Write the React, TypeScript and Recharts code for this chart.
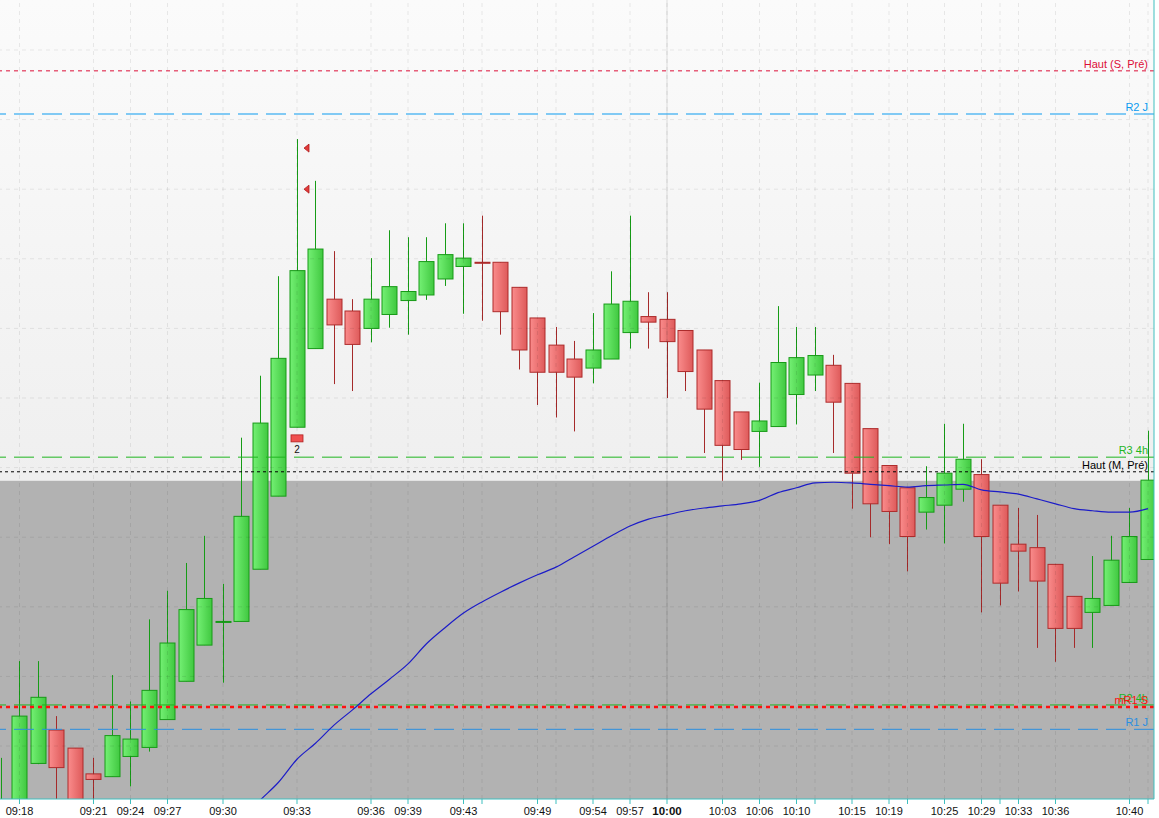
import {
  ComposedChart,
  Bar,
  Line,
  Scatter,
  XAxis,
  YAxis,
  ReferenceLine,
  ReferenceArea,
} from 'recharts';

// OHLC per bar (bar index 0..62)
const opens = [
  4820.5, 4821.5, 4827.5, 4832.3, 4829.7, 4826.0, 4825.6, 4828.5, 4829.8, 4833.8,
  4839.3, 4844.5, 4847.9, 4847.9, 4855.4, 4865.9, 4875.8, 4887.1, 4894.2, 4892.5,
  4890.0, 4892.0, 4894.0, 4894.8, 4897.1, 4898.9, 4899.5, 4899.5, 4895.9, 4891.5,
  4887.6, 4885.6, 4884.3, 4885.6, 4889.4, 4891.7, 4891.3, 4889.7, 4886.9, 4882.5,
  4878.0, 4875.2, 4875.9, 4880.5, 4883.3, 4884.7, 4882.1, 4875.6, 4870.3, 4867.1,
  4863.6, 4864.6, 4866.9, 4869.0, 4864.6, 4859.0, 4858.5, 4856.1, 4851.5, 4849.2,
  4850.2, 4853.5, 4856.8,
];
const highs = [
  4828.3, 4842.2, 4842.2, 4834.3, 4829.7, 4828.3, 4840.2, 4836.4, 4848.2, 4852.3,
  4856.3, 4860.2, 4853.3, 4874.3, 4883.2, 4897.5, 4917.2, 4911.2, 4901.1, 4894.2,
  4900.1, 4904.1, 4903.1, 4903.1, 4905.1, 4905.1, 4906.2, 4899.5, 4895.9, 4891.5,
  4890.2, 4888.2, 4892.2, 4898.2, 4906.2, 4895.2, 4895.2, 4889.7, 4886.9, 4882.5,
  4878.0, 4882.2, 4893.2, 4890.2, 4890.2, 4886.2, 4882.1, 4875.6, 4870.3, 4867.1,
  4870.2, 4876.3, 4876.3, 4871.2, 4864.6, 4864.2, 4863.2, 4856.1, 4851.5, 4857.3,
  4860.2, 4864.2, 4875.3,
];
const lows = [
  4819.7, 4820.8, 4827.4, 4821.5, 4820.8, 4821.5, 4825.6, 4824.2, 4829.2, 4833.8,
  4839.3, 4844.5, 4839.1, 4847.9, 4855.4, 4865.9, 4875.8, 4887.1, 4882.0, 4881.0,
  4888.0, 4890.1, 4889.1, 4894.1, 4896.1, 4892.1, 4891.1, 4889.1, 4884.1, 4879.0,
  4877.2, 4875.2, 4882.1, 4885.6, 4887.1, 4887.1, 4880.0, 4881.0, 4872.1, 4868.1,
  4871.1, 4870.1, 4875.9, 4876.2, 4881.0, 4872.1, 4864.1, 4860.0, 4859.0, 4855.1,
  4861.1, 4859.1, 4865.1, 4849.2, 4850.2, 4852.2, 4844.1, 4842.1, 4844.1, 4844.1,
  4850.2, 4853.5, 4856.8,
];
const closes = [
  4821.7, 4834.3, 4837.0, 4826.9, 4821.5, 4825.2, 4831.5, 4831.0, 4838.0, 4844.8,
  4849.6, 4851.2, 4847.9, 4863.0, 4876.4, 4885.7, 4898.3, 4901.4, 4890.5, 4887.7,
  4894.2, 4896.0, 4895.3, 4899.6, 4900.6, 4900.1, 4899.4, 4892.4, 4886.9, 4883.7,
  4883.7, 4883.0, 4886.9, 4893.5, 4893.9, 4890.9, 4888.1, 4883.8, 4878.4, 4873.2,
  4872.6, 4876.7, 4885.1, 4885.8, 4886.1, 4879.4, 4869.2, 4864.8, 4863.7, 4860.1,
  4865.7, 4869.2, 4871.2, 4860.1, 4853.4, 4858.0, 4853.7, 4846.9, 4846.9, 4851.2,
  4856.7, 4860.1, 4868.2,
];
// moving average (starts below the visible range)
const maLine: (number | null)[] = [
  null, null, null, null, null, null, null, null, null, null, null, null, null,
  4819.4, 4822.2, 4824.8, 4828.1, 4830.4, 4833.0, 4835.2, 4837.5, 4839.6, 4841.8,
  4844.7, 4847.0, 4849.1, 4850.7, 4852.1, 4853.4, 4854.6, 4855.7, 4857.2, 4858.7,
  4860.2, 4861.6, 4862.6, 4863.2, 4863.8, 4864.2, 4864.5, 4864.8, 4865.3, 4866.4,
  4867.1, 4867.8, 4867.9, 4867.8, 4867.6, 4867.4, 4867.2, 4867.4, 4867.5, 4867.6,
  4866.8, 4866.5, 4866.2, 4865.5, 4864.8, 4864.1, 4863.8, 4863.6, 4863.6, 4864.1,
];

const tickIdx = [1, 5, 7, 9, 12, 16, 20, 22, 25, 26, 29, 30, 32, 34, 36, 39, 41, 43, 44, 46, 48, 49, 51, 53, 54, 55, 57, 61, 62];
const tickLabels = [
  '09:18', '09:21', '09:24', '09:27', '09:30', '09:33', '09:36', '09:39', '09:43', '',
  '09:49', '', '09:54', '09:57', '10:00', '10:03', '10:06', '10:10', '', '10:15',
  '10:19', '', '10:25', '10:29', '', '10:33', '10:36', '10:40', '',
];
const yTicks = [4830, 4840, 4850, 4860, 4870, 4880, 4890, 4900, 4910, 4920, 4930];

const levelNames = ['Haut (S, Pré)', 'R2 J', 'R3 4h', 'Haut (M, Pré)', 'R2 4h', 'mR1 S', 'R1 J'];
const levelValues = [4927.0, 4920.8, 4871.5, 4869.4, 4835.9, 4835.6, 4832.4];
const levelStyles = [
  { color: '#dc0f38', dash: '4 4', w: 1 },
  { color: '#0a9bf0', dash: '20 8', w: 1 },
  { color: '#1fb51f', dash: '20 8', w: 1 },
  { color: '#000000', dash: '3 3', w: 1 },
  { color: '#1fb51f', dash: '20 8', w: 1 },
  { color: '#ff1010', dash: '4 4', w: 2.5 },
  { color: '#2a8fe0', dash: '20 8', w: 1 },
];

const zoneTop = 4868.1; // grey zone upper limit
const arrowPts = [{ i: 16, v: 4915.9 }, { i: 16, v: 4910.0 }];
const countPts = [{ i: 16, v: 4874.2, n: '2' }];

const Y_MIN = 4822.39;
const Y_MAX = 4937.18;
const X_MIN = -0.054;
const X_MAX = 62.324;
const FONT = '"Liberation Sans", Arial, sans-serif';
const TEAL = '#3fbfbf';
const GRID = 'rgba(0,0,0,0.08)';

const rows = opens.map((o, i) => ({
  i,
  open: o,
  high: highs[i],
  low: lows[i],
  close: closes[i],
  ma: maLine[i],
}));

function Candle(props: any) {
  const { x, y, width, height, payload } = props;
  const { open, close, high, low } = payload;
  const top = Math.min(y, y + height);
  const h = Math.abs(height);
  const k = high === low ? 0 : h / (high - low);
  const yo = top + (high - open) * k;
  const yc = top + (high - close) * k;
  const up = close >= open;
  const bt = Math.min(yo, yc);
  const bh = Math.max(Math.abs(yo - yc), 1);
  const cx = Math.round(x + width / 2) + 0.5;
  return (
    <g>
      <line x1={cx} x2={cx} y1={top} y2={top + h} stroke={up ? '#169c16' : '#a52a2a'} strokeWidth={1} />
      <rect
        x={cx - 7.5}
        y={bt}
        width={15}
        height={bh}
        fill={up ? 'url(#gUp)' : 'url(#gDn)'}
        stroke={up ? '#179a17' : '#ad2b2b'}
        strokeWidth={1}
      />
    </g>
  );
}

function Arrow(props: any) {
  const { cx, cy } = props;
  const x0 = cx + 7;
  return (
    <polygon
      points={`${x0},${cy} ${x0 + 5},${cy - 4} ${x0 + 5},${cy + 4}`}
      fill="#e23a3a"
      stroke="#b01c1c"
      strokeWidth={0.8}
    />
  );
}

function CountMark(props: any) {
  const { cx, cy, payload } = props;
  return (
    <g>
      <rect x={cx - 6} y={cy - 3.5} width={12} height={7} fill="#f05050" stroke="#b02020" strokeWidth={0.8} />
      <text x={cx} y={cy + 15} textAnchor="middle" fontSize={10} fontFamily={FONT} fill="#111">
        {payload.n}
      </text>
    </g>
  );
}

function TimeTick(props: any) {
  const { x, y, payload } = props;
  const label = tickLabels[tickIdx.indexOf(payload.value)] || '';
  const bold = label === '10:00';
  return (
    <text
      x={x}
      y={y}
      dy={8.5}
      textAnchor="middle"
      fontSize={bold ? 11.5 : 11}
      fontWeight={bold ? 'bold' : 'normal'}
      fontFamily={FONT}
      fill="#111"
    >
      {label}
    </text>
  );
}

function levelLabel(name: string, color: string) {
  return (p: any) => {
    const vb = p.viewBox || {};
    return (
      <text
        x={vb.x + vb.width - 6}
        y={vb.y - 3}
        textAnchor="end"
        fontSize={11}
        fontFamily={FONT}
        fill={color}
      >
        {name}
      </text>
    );
  };
}

export default function App() {
  return (
    <div style={{ position: 'absolute', left: 0, top: 0, width: 1159, height: 818, background: '#fff' }}>
      <ComposedChart width={1159} height={818} data={rows} margin={{ top: 0, right: 0, bottom: 0, left: 0 }}>
        <defs>
          <linearGradient id="bgTop" x1="0" y1="0" x2="0" y2="1">
            <stop offset="0%" stopColor="#fbfbfb" />
            <stop offset="100%" stopColor="#efefef" />
          </linearGradient>
          <linearGradient id="gUp" x1="0" y1="0" x2="1" y2="0">
            <stop offset="0%" stopColor="#74f074" />
            <stop offset="100%" stopColor="#40c840" />
          </linearGradient>
          <linearGradient id="gDn" x1="0" y1="0" x2="1" y2="0">
            <stop offset="0%" stopColor="#fa8c8c" />
            <stop offset="100%" stopColor="#de5a5a" />
          </linearGradient>
        </defs>
        <XAxis
          dataKey="i"
          type="number"
          domain={[X_MIN, X_MAX]}
          allowDataOverflow
          ticks={tickIdx}
          interval={0}
          tick={<TimeTick />}
          tickSize={5}
          height={19}
          axisLine={{ stroke: TEAL }}
          tickLine={{ stroke: TEAL }}
        />
        <YAxis
          orientation="right"
          type="number"
          domain={[Y_MIN, Y_MAX]}
          allowDataOverflow
          ticks={yTicks}
          tick={false}
          tickSize={5}
          width={5}
          axisLine={{ stroke: TEAL }}
          tickLine={{ stroke: TEAL }}
        />
        <ReferenceArea y1={zoneTop} y2={Y_MAX} fill="url(#bgTop)" fillOpacity={1} stroke="none" />
        <ReferenceArea y1={Y_MIN} y2={zoneTop} fill="#b2b2b2" fillOpacity={1} stroke="none" />
        {/* grid drawn as reference lines so it sits above the background zones */}
        {tickIdx.map((t) => (
          <ReferenceLine key={'gx' + t} x={t} stroke={GRID} strokeDasharray="4 4" />
        ))}
        {yTicks.map((t) => (
          <ReferenceLine key={'gy' + t} y={t} stroke={GRID} strokeDasharray="4 4" />
        ))}
        <ReferenceLine x={36} stroke="rgba(0,0,0,0.12)" />
        {levelNames.map((name, k) => (
          <ReferenceLine
            key={name}
            y={levelValues[k]}
            stroke={levelStyles[k].color}
            strokeDasharray={levelStyles[k].dash}
            strokeWidth={levelStyles[k].w}
            label={levelLabel(name, levelStyles[k].color)}
          />
        ))}
        <Bar
          dataKey={(d: any) => [d.low, d.high]}
          barSize={16}
          shape={(p: any) => <Candle {...p} />}
          isAnimationActive={false}
        />
        <Line
          dataKey="ma"
          type="monotone"
          stroke="#1c1cc8"
          strokeWidth={1.2}
          dot={false}
          activeDot={false}
          isAnimationActive={false}
        />
        <Scatter data={arrowPts} dataKey="v" shape={(p: any) => <Arrow {...p} />} isAnimationActive={false} />
        <Scatter data={countPts} dataKey="v" shape={(p: any) => <CountMark {...p} />} isAnimationActive={false} />
      </ComposedChart>
    </div>
  );
}
